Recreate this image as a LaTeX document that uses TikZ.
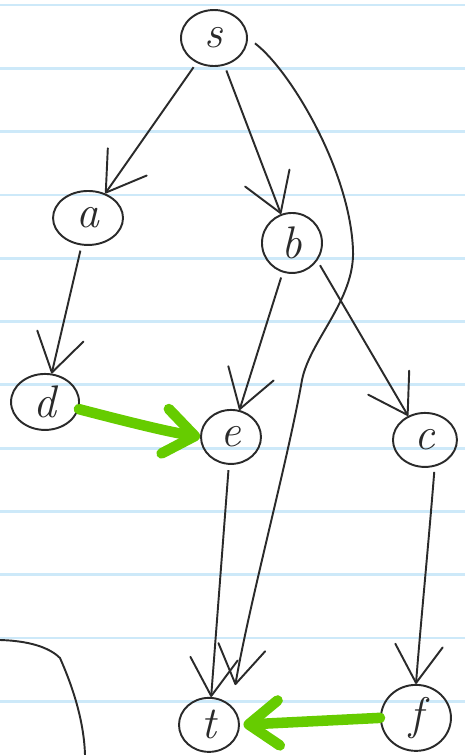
\documentclass[tikz,border=0pt]{standalone}
\usetikzlibrary{arrows.meta, positioning, shapes.geometric}
\definecolor{ink}{HTML}{2A2A2A}
\definecolor{marker}{HTML}{66CC00}
\definecolor{rule}{HTML}{CDE9F9}

\begin{document}
\begin{tikzpicture}[
    x=0.02cm, y=-0.02cm,
    on grid,
    vert/.style={
        draw=ink, ellipse, line width=1.1pt, inner sep=0pt,
        minimum width=1.26cm, minimum height=1.08cm,
        font=\fontsize{26}{26}\selectfont\itshape, text=ink
    },
    arrow/.style={-{Straight Barb[length=0.75cm, width=0.95cm, round]}, line width=1.1pt, color=ink, shorten <=3pt},
    garrow/.style={-{Straight Barb[length=0.6cm, width=0.9cm, round]}, line width=6pt, color=marker, line cap=round},
    ruling/.style={line width=1.6pt, color=rule}
]

% === Paper ===
\useasboundingbox (0,0) rectangle (465,755);
\foreach \k in {0,...,11}
    \draw[ruling] (0,5+63.3*\k) -- (465,5+63.3*\k);

% stray stroke, bottom left
\draw[ink, line width=1.1pt] (0,640) .. controls (35,641) and (52,650) .. (60,658)
    .. controls (72,685) and (84,720) .. (85,755);

% === Vertices ===

% source
\node[vert, minimum width=1.32cm, minimum height=1.12cm] (s) at (214,38) {s};

% second layer
\node[vert, minimum width=1.4cm, below left=3.6cm and 2.52cm of s] (a) {a};
\node[vert, minimum width=1.2cm, minimum height=1.2cm, below right=4.1cm and 1.56cm of s] (b) {b};

% third layer
\node[vert, minimum width=1.36cm, minimum height=1.12cm, below left=3.68cm and 0.86cm of a] (d) {d};
\node[vert, minimum width=1.2cm, below left=3.88cm and 1.22cm of b] (e) {e};
\node[vert, minimum width=1.28cm, below right=3.94cm and 2.66cm of b] (c) {c};

% sink layer
\node[vert, minimum width=1.2cm, below left=5.76cm and 0.44cm of e] (t) {t};
\node[vert, minimum width=1.4cm, minimum height=1.32cm, below left=5.56cm and 0.18cm of c] (f) {f};

% === Edges ===

\draw[arrow] (s) -- (a);
\draw[arrow] (s) -- (b);
\draw[arrow] (a) -- (d);
\draw[arrow] (b) -- (e);
\draw[arrow] (b.-35) -- (c.125);
\draw[arrow] (e) -- (t);
\draw[arrow] (c.-70) .. controls (428,550) and (421,620) .. (f.north);

% long edge s -> t
\coordinate (sbend) at (353,250);
\coordinate (swave) at (302,380);
\draw[arrow, shorten <=5pt, shorten >=12pt]
    (s.east) .. controls (290,70) and (350,170) .. (sbend)
    .. controls (355,300) and (310,340) .. (swave)
    .. controls (288,460) and (250,600) .. (t.40);

% highlighted edges
\draw[garrow] (d.-12) .. controls (140,425) and (170,432) .. (e.west);
\draw[garrow, shorten >=2pt] (f.west) -- (t.east);

\end{tikzpicture}
\end{document}
